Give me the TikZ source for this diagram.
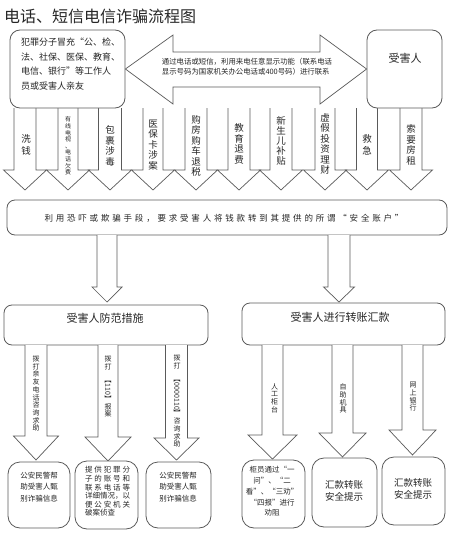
\documentclass[tikz,border=0pt]{standalone}
\usepackage{fontspec}
\usepackage{graphicx}
\setmainfont{Noto Sans CJK SC}
\definecolor{linegray}{HTML}{5A5A5A}
\definecolor{inkgray}{HTML}{262626}

\newcommand\fsz[2]{\fontsize{#1}{#2}\selectfont}
% block arrow pointing down: x, top, head base, tip, half shaft, half head
\newcommand\fallarrow[6]{\draw[blockarrow] (#1-#5,#2) -- (#1-#5,#3) -- (#1-#6,#3) -- (#1,#4) -- (#1+#6,#3) -- (#1+#5,#3) -- (#1+#5,#2);}
\newcommand\turned[1]{\rotatebox{-90}{#1}}
\ExplSyntaxOn
% one line spread over a given width
\NewDocumentCommand\spreadline{mm}{\hbox_to_wd:nn {#1} {\tl_map_inline:nn {#2} {##1 \hfil} \unskip}}
\ExplSyntaxOff

\begin{document}
\begin{tikzpicture}[x=1pt,y=-1pt]
\useasboundingbox (0,0) rectangle (450,538);
\tikzstyle{box}=[draw=linegray,line width=0.8pt,rounded corners=10pt,fill=white,inner sep=0pt]
\tikzstyle{blockarrow}=[draw=linegray,line width=0.7pt,fill=white,line join=miter]
\tikzstyle{every node}=[text=inkgray,inner sep=0pt]
\tikzstyle{stack}=[align=center,font={\fsz{9.5}{10.5}}]
\tikzstyle{smallstack}=[align=center,font={\fsz{7}{7.7}}]
\node[anchor=west,font={\fsz{16}{16}}] (title) at (4,16) {电话、短信电信诈骗流程图};
% top row of arrows
\fallarrow{25}{108}{170}{190}{11}{21.5}
\fallarrow{68}{108}{170}{190}{10}{21.5}
\fallarrow{110}{108}{170}{190}{11.5}{21.5}
\fallarrow{153}{108}{170}{190}{10}{21.5}
\fallarrow{196}{108}{170}{190}{11}{21.5}
\fallarrow{239}{108}{170}{190}{11}{21.5}
\fallarrow{281}{108}{170}{190}{11}{21.5}
\fallarrow{325}{108}{170}{190}{10}{21.5}
\fallarrow{367}{108}{170}{190}{10.5}{21.5}
\fallarrow{411}{108}{170}{190}{11}{21.5}
\node[stack,font={\fsz{9.5}{12}}] (wash) at (26,145) {洗\\钱};
\node[align=center,font={\fsz{6}{6.6}}] (bill) at (68,146) {有\\线\\电\\视\\、\\电\\话\\欠\\费};
\node[stack] (parcel) at (110,146) {包\\裹\\涉\\毒};
\node[stack] (card) at (153,145) {医\\保\\卡\\涉\\案};
\node[stack] (refund) at (196,146) {购\\房\\购\\车\\退\\税};
\node[stack] (school) at (239,144) {教\\育\\退\\费};
\node[stack,font={\fsz{9.5}{10}}] (baby) at (281,141) {新\\生\\儿\\补\\贴};
\node[stack] (invest) at (325,144) {虚\\假\\投\\资\\理\\财};
\node[stack,font={\fsz{9.5}{12}}] (urgent) at (367,145) {救\\急};
\node[stack] (rent) at (411,145) {索\\要\\房\\租};
% caller, double arrow, victim
\node[box,minimum width=115,minimum height=78] (crook) at (67.5,69) {};
\node[anchor=north west,align=left,font={\fsz{9}{14.5}}] (crooktext) at (21,38) {犯罪分子冒充“公、检、\\法、社保、医保、教育、\\电信、银行”等工作人\\员或受害人亲友};
\node[box,minimum width=75,minimum height=78] (victim) at (404.5,69) {};
\node[font={\fsz{11}{11}}] (victimtext) at (405,58) {受害人};
\draw[blockarrow] (crook.east) -- (173,35) -- (173,52) -- (320,52) -- (320,35) -- (victim.west) -- (320,104) -- (320,87) -- (173,87) -- (173,104) -- cycle;
\node[align=left,font={\fsz{7.4}{10}}] (call) at (247,66.5) {通过电话或短信，利用来电任意显示功能（联系电话\\显示号码为国家机关办公电话或400号码）进行联系};
% safe account
\node[box,rounded corners=8pt,minimum width=440,minimum height=35] (means) at (227,217.5) {};
\node[font={\fsz{8.5}{8.5}\addfontfeature{LetterSpace=33}}] (meanstext) at (224,218) {利用恐吓或欺骗手段，要求受害人将钱款转到其提供的所谓“安全账户”};
\fallarrow{107}{235}{287}{302}{10}{15}
\fallarrow{339}{235}{287}{302}{11}{15.5}
\node[box,rounded corners=8pt,minimum width=204,minimum height=40] (guard) at (106,325) {};
\node[font={\fsz{11}{11}}] (guardtext) at (105,318) {受害人防范措施};
\node[box,rounded corners=8pt,minimum width=203,minimum height=42] (transfer) at (343.5,324) {};
\node[font={\fsz{11}{11}}] (transfertext) at (340,317) {受害人进行转账汇款};
% lower left
\fallarrow{36}{345}{436}{460}{11}{22.5}
\fallarrow{108}{345}{437}{461}{10}{23}
\fallarrow{176.5}{345}{438}{460}{11}{22.5}
\node[smallstack] (friend) at (36,393.5) {拨\\打\\亲\\友\\电\\话\\咨\\询\\求\\助};
\node[smallstack] (police) at (108,386.5) {拨\\打\\\turned{【110】}\\报\\案};
\node[smallstack] (hotline) at (177,401) {拨\\打\\\turned{【0000110】}\\咨\\询\\求\\助};
\node[box,rounded corners=12pt,minimum width=62,minimum height=66] (helpA) at (39,495) {};
\node[align=center,font={\fsz{7.5}{11.5}}] (helpAtext) at (39,487) {公安民警帮\\助受害人甄\\别诈骗信息};
\node[box,rounded corners=12pt,minimum width=63,minimum height=68] (report) at (106.5,495) {};
\node[font={\fsz{7.5}{8.6}}] (reporttext) at (107.5,491.5) {\vbox{\spreadline{45pt}{提供犯罪分}\spreadline{45pt}{子的账号和}\spreadline{45pt}{联系电话等}\spreadline{45pt}{详细情况，以}\spreadline{45pt}{便公安机关}\hbox{破案侦查}}};
\node[box,rounded corners=12pt,minimum width=65,minimum height=66] (helpB) at (178.5,495) {};
\node[align=center,font={\fsz{7.5}{11.5}}] (helpBtext) at (178,487) {公安民警帮\\助受害人甄\\别诈骗信息};
% lower right
\fallarrow{272.5}{345}{435}{459}{10.5}{24.5}
\fallarrow{342.5}{345}{433}{457}{10.5}{23.5}
\fallarrow{412.5}{345}{430}{455}{10.5}{23.5}
\node[smallstack] (counter) at (274.5,398) {人\\工\\柜\\台};
\node[smallstack] (atm) at (343,398.5) {自\\助\\机\\具};
\node[smallstack] (online) at (413,397) {网\\上\\银\\行};
\node[box,rounded corners=12pt,minimum width=63,minimum height=68] (clerk) at (273.5,494) {};
\node[align=center,font={\fsz{7.5}{10.75}}] (clerktext) at (272,491.5) {柜员通过“一\\问”、“二\\看”、“三劝”\\“四报”进行\\劝阻};
\node[box,rounded corners=12pt,minimum width=65,minimum height=69] (tipA) at (344.5,492.5) {};
\node[align=center,font={\fsz{9.5}{12}}] (tipAtext) at (344,491) {汇款转账\\安全提示};
\node[box,rounded corners=12pt,minimum width=63,minimum height=68] (tipB) at (413.5,491) {};
\node[align=center,font={\fsz{9.5}{12}}] (tipBtext) at (413,489) {汇款转账\\安全提示};
\end{tikzpicture}
\end{document}
